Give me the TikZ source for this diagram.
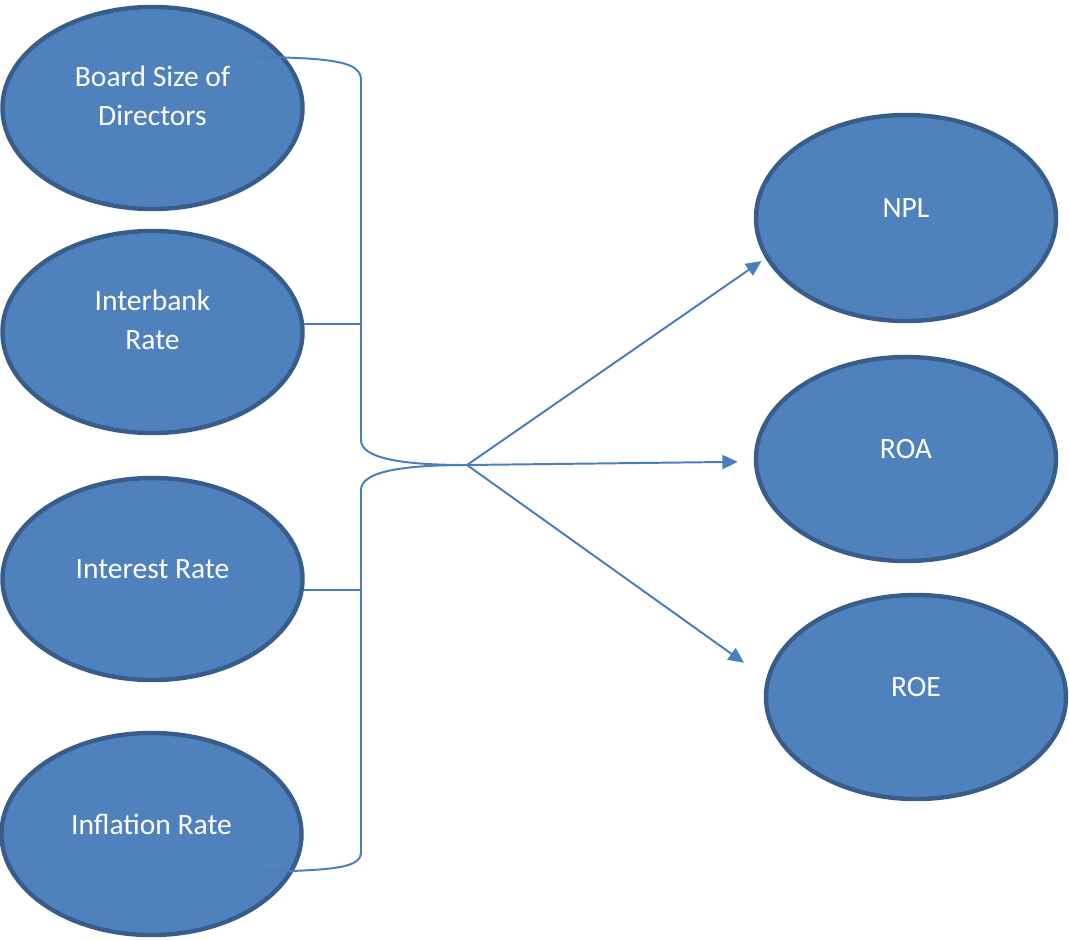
\documentclass[tikz,border=0pt]{standalone}
\usepackage{fontspec}
\setmainfont{Carlito}
\usetikzlibrary{shapes.geometric,arrows.meta}
\definecolor{bubblefill}{HTML}{4F81BD}
\definecolor{bubbledraw}{HTML}{385D8A}
\definecolor{linkblue}{HTML}{4A7EBB}
\tikzset{
  bubble/.style={
    ellipse,
    draw=bubbledraw,
    fill=bubblefill,
    line width=0.11cm,
    text=white,
    align=center,
    font=\fontsize{21}{28}\selectfont,
    minimum width=7.5cm,
    minimum height=5.05cm,
    inner sep=0pt
  },
  link/.style={
    draw=linkblue,
    line width=1.4pt
  },
  arrowlink/.style={
    link,
    -{Triangle[length=11pt,width=10pt]}
  }
}

\begin{document}
\begin{tikzpicture}[x=0.025cm,y=-0.025cm]
            \useasboundingbox (0,0) rectangle (1069,940);

            \node[bubble, text depth=0.6cm] (bsd) at (152.5,108) {Board Size of\\Directors};
            \node[bubble, text depth=0.6cm] (ib) at (152.5,332) {Interbank\\Rate};
            \node[bubble, text depth=0.5cm] (ir) at (152.5,579) {Interest Rate};
            \node[bubble, text depth=0.5cm] (inf) at (151.5,834) {Inflation Rate};

            \node[bubble, minimum height=5.15cm, text depth=0.5cm] (npl) at (906,218) {NPL};
            \node[bubble, minimum height=5.1cm, text depth=0.5cm] (roa) at (906,459) {ROA};
            \node[bubble, minimum height=5.1cm, text depth=0.5cm] (roe) at (916,697) {ROE};

            \coordinate (hub) at (467,465);
            \coordinate (spine) at (361,0);
            \coordinate (bracetop) at (258,57);
            \coordinate (bracebot) at (260,872);

            \draw[link] (bracetop) .. controls (335,58) and (361,62) .. (361,80)
              -- (361,440) .. controls (361,458) and (400,465) .. (hub);
            \draw[link] (hub) .. controls (400,465) and (361,472) .. (361,490)
              -- (361,852) .. controls (361,868) and (335,870) .. (bracebot);
            \draw[link] (ib.3) -- (ib.3 -| spine);
            \draw[link] (ir.-4) -- (ir.-4 -| spine);

            \draw[arrowlink, shorten >=0.12cm] (hub) -- (npl.196);
            \draw[arrowlink, shorten >=0.4cm] (hub) -- (roa.181);
            \draw[arrowlink, shorten >=0.68cm] (hub) -- (roe.173);
\end{tikzpicture}
\end{document}
